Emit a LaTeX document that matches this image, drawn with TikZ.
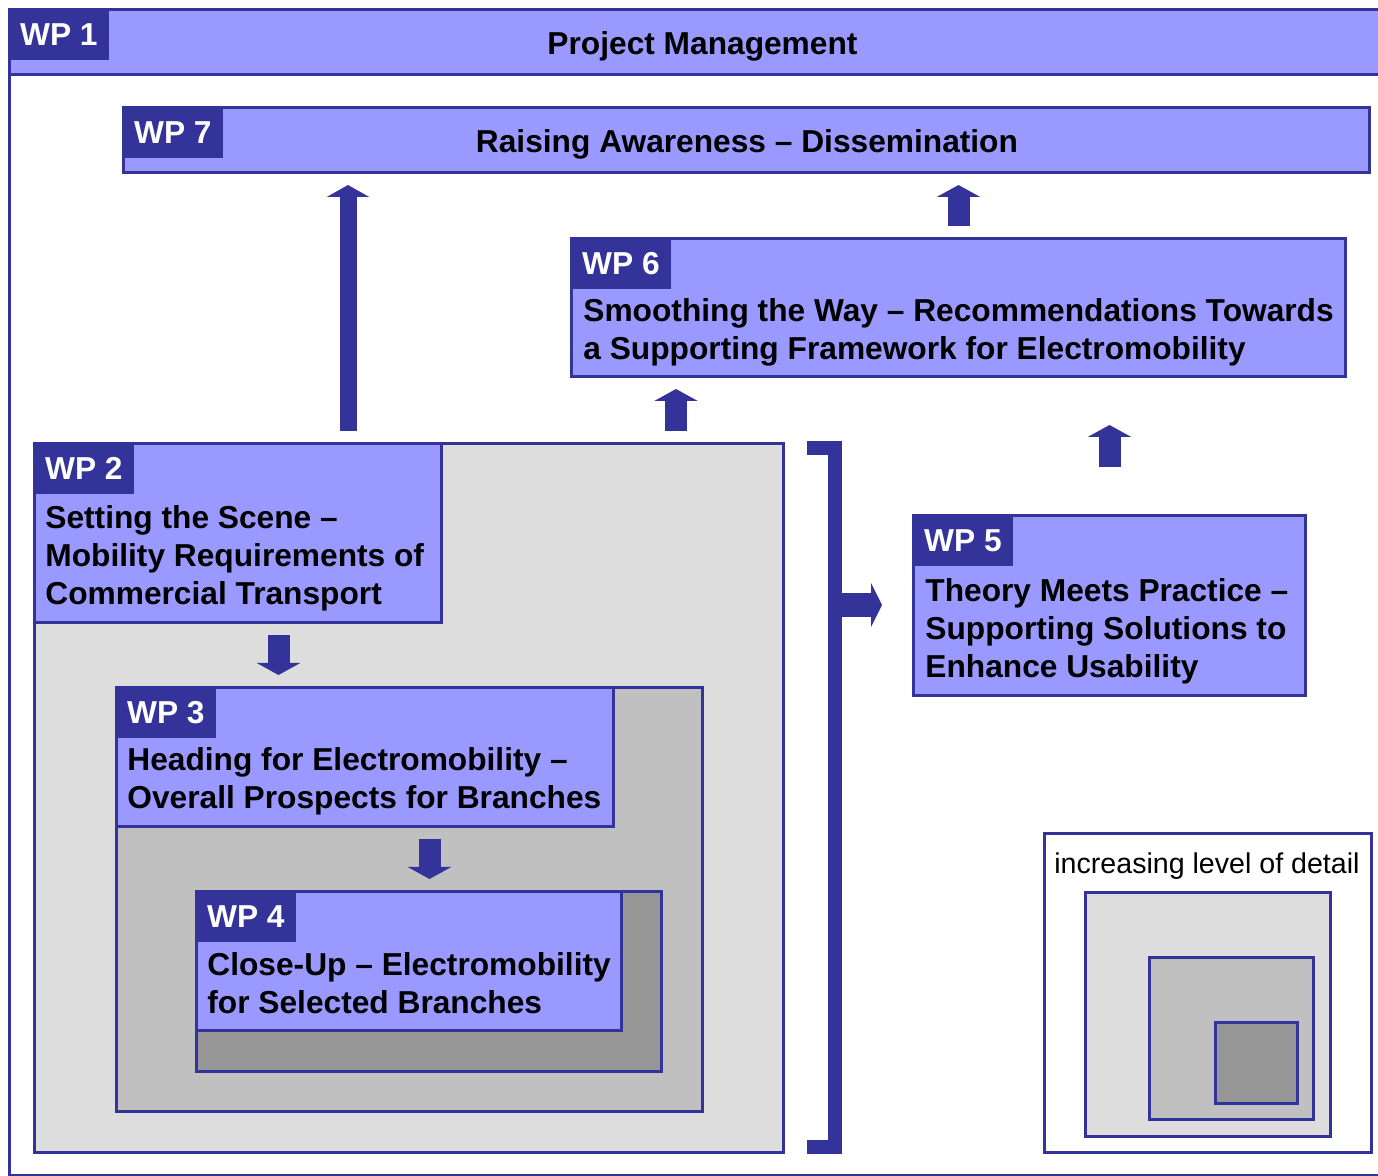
\documentclass[tikz,border=0pt]{standalone}
\usepackage{fontspec}
\setmainfont{Liberation Sans}
\usetikzlibrary{arrows.meta}

\definecolor{wpdark}{HTML}{333399}
\definecolor{wplight}{HTML}{9999FF}
\definecolor{grayA}{HTML}{DDDDDD}
\definecolor{grayB}{HTML}{C0C0C0}
\definecolor{grayC}{HTML}{969696}

\tikzset{
  wpbox/.style={draw=wpdark, line width=1.5pt, fill=wplight, inner sep=0pt},
  levelbox/.style={draw=wpdark, line width=1.5pt, inner sep=0pt},
  wplabel/.style={fill=wpdark, text=white, font=\bfseries\fontsize{15.85}{19}\selectfont,
    minimum width=50.5pt, minimum height=26pt, inner sep=0pt, anchor=north west},
  wptext/.style={font=\bfseries\fontsize{15.85}{19}\selectfont, align=left, inner sep=0pt, anchor=base west},
  blockarrow/.style={wpdark, line width=11pt, -{Triangle[width=21.5pt,length=6pt]},
    shorten <=5.5pt, shorten >=5.5pt},
}

\begin{document}
\begin{tikzpicture}[x=0.5pt, y=-0.5pt]
  \useasboundingbox (0,0) rectangle (1378,1176);

  % outer frame and WP 1
  \node[levelbox, minimum width=694.5pt, minimum height=583pt] (frame) at (704,592.5) {};
  \node[wpbox, minimum width=694.5pt, minimum height=32.5pt] (wp1) at (704,42) {};
  \node[wplabel] (wp1l) at (wp1.north west) {WP 1};
  \node[font=\bfseries\fontsize{15.85}{19}\selectfont, anchor=base] (wp1t) at (702.5,54.5) {Project Management};

  % WP 7
  \node[wpbox, minimum width=623pt, minimum height=32.5pt] (wp7) at (746.5,140) {};
  \node[wplabel] (wp7l) at (wp7.north west) {WP 7};
  \node[font=\bfseries\fontsize{15.85}{19}\selectfont, anchor=base] (wp7t) at (747,152.5) {Raising Awareness -- Dissemination};

  % WP 6
  \node[wpbox, minimum width=387pt, minimum height=69pt] (wp6) at (958.5,307.5) {};
  \node[wplabel] (wp6l) at (wp6.north west) {WP 6};
  \node[wptext] (wp6t) at (583,360) {Smoothing the Way -- Recommendations Towards\\a Supporting Framework for Electromobility};

  % WP 2, 3, 4 nested
  \node[levelbox, fill=grayA, minimum width=374.5pt, minimum height=354.5pt] (wp2a) at (409,798) {};
  \node[wpbox, minimum width=203.5pt, minimum height=89.5pt] (wp2) at (238,533) {};
  \node[wplabel] (wp2l) at (wp2.north west) {WP 2};
  \node[wptext] (wp2t) at (45,605) {Setting the Scene --\\Mobility Requirements of\\Commercial Transport};

  \node[levelbox, fill=grayB, minimum width=293pt, minimum height=212pt] (wp3a) at (409.5,899.5) {};
  \node[wpbox, minimum width=248.5pt, minimum height=69.5pt] (wp3) at (365,757) {};
  \node[wplabel] (wp3l) at (wp3.north west) {WP 3};
  \node[wptext] (wp3t) at (127,809) {Heading for Electromobility --\\Overall Prospects for Branches};

  \node[levelbox, fill=grayC, minimum width=232.5pt, minimum height=90pt] (wp4a) at (429,981.5) {};
  \node[wpbox, minimum width=212.5pt, minimum height=69.5pt] (wp4) at (409,961) {};
  \node[wplabel] (wp4l) at (wp4.north west) {WP 4};
  \node[wptext] (wp4t) at (207,1013) {Close-Up -- Electromobility\\for Selected Branches};

  % WP 5
  \node[wpbox, minimum width=196pt, minimum height=90pt] (wp5) at (1109.5,605.5) {};
  \node[wplabel] (wp5l) at (wp5.north west) {WP 5};
  \node[wptext] (wp5t) at (925,678) {Theory Meets Practice --\\Supporting Solutions to\\Enhance Usability};

  % legend
  \node[levelbox, fill=white, minimum width=163.5pt, minimum height=159.5pt] (legend) at (1208,993) {};
  \node[font=\fontsize{14.3}{17}\selectfont, anchor=base] (legendt) at (1207,873) {increasing level of detail};
  \node[levelbox, fill=grayA, minimum width=122.5pt, minimum height=122pt] (lev1) at (1208,1014.5) {};
  \node[levelbox, fill=grayB, minimum width=82pt, minimum height=81pt] (lev2) at (1231.5,1038.5) {};
  \node[levelbox, fill=grayC, minimum width=41pt, minimum height=40.5pt] (lev3) at (1256.5,1063) {};

  % bracket
  \coordinate (brk) at (835,605);
  \draw[wpdark, line width=7pt, miter limit=10] (807,448.5) -- (835,448.5) -- (835,1147) -- (807,1147);

  % arrows
  \draw[blockarrow, line width=8.5pt, -{Triangle[width=21pt,length=6pt]}] (348,0 |- wp2a.north) -- (348,0 |- wp7.south);
  \draw[blockarrow] (676,0 |- wp2a.north) -- (676,0 |- wp6.south);
  \draw[blockarrow] (958.5,0 |- wp6.north) -- (958.5,0 |- wp7.south);
  \draw[blockarrow, shorten <=23.5pt, shorten >=23.5pt] (wp5.north) -- (wp5.north |- wp6.south);
  \draw[blockarrow] (278.5,0 |- wp2.south) -- (278.5,0 |- wp3.north);
  \draw[blockarrow] (429.5,0 |- wp3.south) -- (429.5,0 |- wp4.north);
  \draw[blockarrow, line width=12pt, -{Triangle[width=22pt,length=5.5pt]}, shorten <=0pt, shorten >=15pt] (brk) -- (brk -| wp5.west);
\end{tikzpicture}
\end{document}
